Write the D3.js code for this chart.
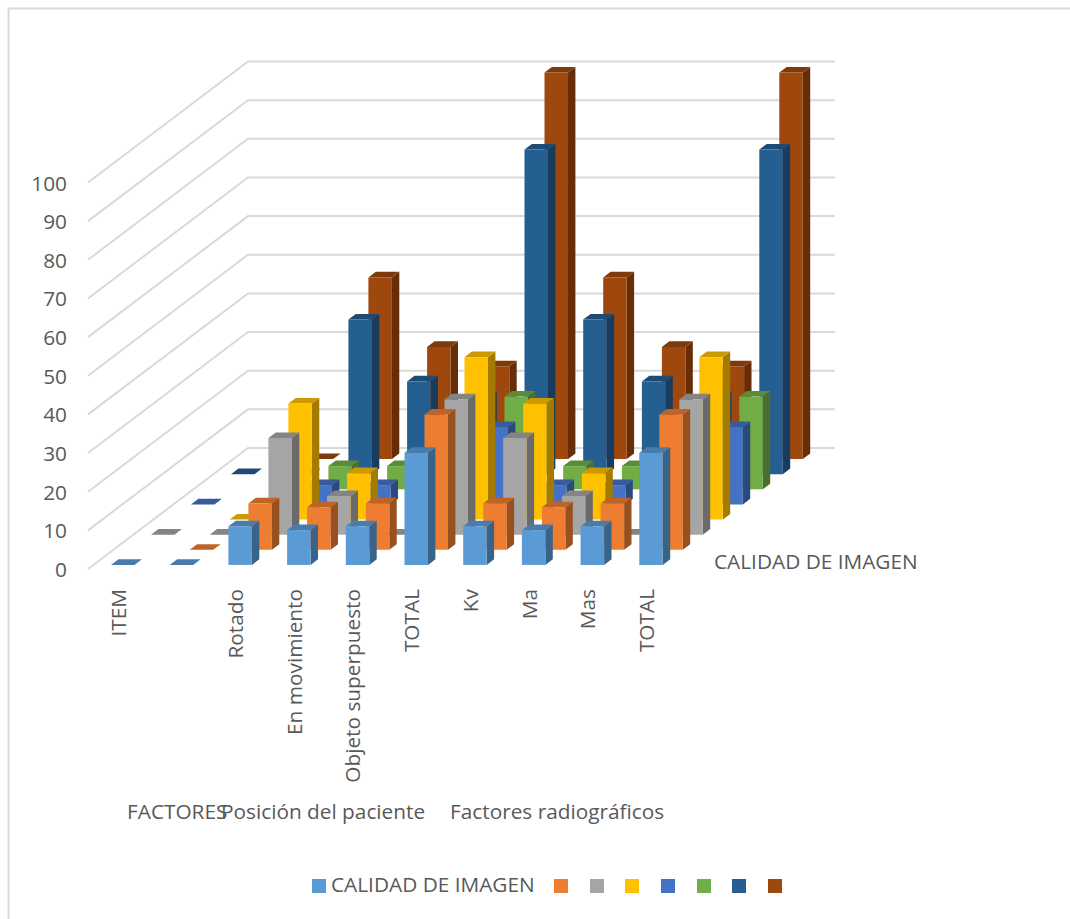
<!DOCTYPE html>
<html lang="es">
<head>
<meta charset="utf-8">
<title>Calidad de imagen</title>
<script src="https://cdn.jsdelivr.net/npm/d3@7"></script>
<style>
  html, body { margin: 0; padding: 0; background: #fff; }
  svg { display: block; }
  text { font-family: "Open Sans", Lato, sans-serif; fill: #595959; }
</style>
</head>
<body>
<svg id="chart" width="1070" height="919"></svg>
<script>
// Categories along the horizontal axis; the second entry has no label of its own.
const categories = ["ITEM", "", "Rotado", "En movimiento", "Objeto superpuesto", "TOTAL", "Kv", "Ma", "Mas", "TOTAL"];
const groupLabels = ["FACTORES", "Posición del paciente", "Factores radiográficos"];
const valueTicks = d3.range(0, 101, 10);

// One list per series, front row first. null = nothing drawn, 0 = flat footprint.
const serieCalidad   = [0, 0, 10, 9, 10, 29, 10, 9, 10, 29];
const serieNaranja   = [null, 0, 12, 11, 12, 35, 12, 11, 12, 35];
const serieGris      = [0, 0, 25, 10, 0, 35, 25, 10, 0, 35];
const serieAmarilla  = [null, 0, 30, 12, 0, 42, 30, 12, 0, 42];
const serieAzul      = [0, null, 5, 5, 10, 20, 5, 5, 10, 20];
const serieVerde     = [null, null, 6, 6, 12, 24, 6, 6, 12, 24];
const serieAzulOsc   = [0, 0, 40, 24, 20, 84, 40, 24, 20, 84];
const serieTeja      = [null, 0, 47, 29, 24, 100, 47, 29, 24, 100];

const seriesValues = [serieCalidad, serieNaranja, serieGris, serieAmarilla, serieAzul, serieVerde, serieAzulOsc, serieTeja];
const seriesNames  = ["CALIDAD DE IMAGEN", "", "", "", "", "", "", ""];
const seriesColors = ["#5B9BD5", "#ED7D31", "#A5A5A5", "#FFC000", "#4472C4", "#70AD47", "#255E91", "#9E480E"];

const svg = d3.select("#chart");

// Oblique projection: the floor runs from the front-left corner to the back wall.
const floor = { left: 88, right: 675, front: 569, depthX: 160, depthY: 121 };
const wallHeight = 386.5;

const x = d3.scaleBand().domain(d3.range(categories.length)).range([floor.left, floor.right]);
const y = d3.scaleLinear().domain([0, 100]).range([0, wallHeight]);
const depth = d3.scaleBand().domain(d3.range(seriesValues.length)).range([0, 1]);

const barWidth = 23.5;
const barDepth = 0.37;   // share of a series slot taken by a bar
const barLead = 0.27;    // share of the slot in front of a bar

const project = (px, pd, h) => [px + pd * floor.depthX, floor.front - pd * floor.depthY - y(h)];
const toPath = pts => "M" + pts.map(p => p.join(",")).join("L") + "Z";

// Chart frame, cut off by the right and bottom edges of the page.
svg.append("path")
  .attr("d", "M8.5,919V8.5H1070")
  .attr("fill", "none").attr("stroke", "#d9d9d9").attr("stroke-width", 2);

// Grid lines on the side wall and the back wall.
const grid = svg.append("g").attr("fill", "none").attr("stroke", "#d9d9d9").attr("stroke-width", 2);
grid.selectAll("path").data(valueTicks).join("path")
  .attr("d", v => {
    const a = project(floor.left, 0, v), b = project(floor.left, 1, v), c = project(floor.right, 1, v);
    return "M" + [a, b, c].map(p => p.join(",")).join("L");
  });

// Bars, painted from the back row forward so nearer rows overlap farther ones.
const marks = svg.append("g");
d3.range(seriesValues.length).reverse().forEach(s => {
  const base = d3.color(seriesColors[s]);
  const topFill = base.darker(0.62).formatHex();
  const sideFill = base.darker(1.25).formatHex();
  const d0 = depth(s) + depth.bandwidth() * barLead;
  const d1 = d0 + depth.bandwidth() * barDepth;
  seriesValues[s].forEach((v, c) => {
    if (v === null) return;
    const x0 = x(c) + x.bandwidth() / 2 - barWidth / 2;
    const x1 = x0 + barWidth;
    const g = marks.append("g");
    g.append("path").attr("fill", sideFill)
      .attr("d", toPath([project(x1, d0, 0), project(x1, d1, 0), project(x1, d1, v), project(x1, d0, v)]));
    g.append("path").attr("fill", topFill)
      .attr("d", toPath([project(x0, d0, v), project(x1, d0, v), project(x1, d1, v), project(x0, d1, v)]));
    g.append("path").attr("fill", seriesColors[s])
      .attr("d", toPath([project(x0, d0, 0), project(x1, d0, 0), project(x1, d0, v), project(x0, d0, v)]));
  });
});

const fontSize = "20.8px";

// Value axis at the front-left corner.
const valueAxis = d3.axisLeft(d3.scaleLinear().domain([0, 100]).range([floor.front, floor.front - wallHeight]))
  .tickValues(valueTicks).tickSize(0).tickPadding(0);
svg.append("g").attr("transform", "translate(67,0)").call(valueAxis)
  .call(g => g.select(".domain").remove())
  .selectAll("text").style("font-size", fontSize).attr("dy", "0.36em");

// Category axis with vertical labels reading upward.
const categoryAxis = d3.axisBottom(x).tickSize(0).tickFormat(i => categories[i]);
svg.append("g").attr("transform", `translate(1,${floor.front})`).call(categoryAxis)
  .call(g => g.select(".domain").remove())
  .selectAll("text")
  .attr("text-anchor", "end")
  .attr("transform", "rotate(-90)")
  .attr("x", -20).attr("y", 0).attr("dy", "0.35em")
  .style("font-size", fontSize);

// Second level of the category axis.
const groupX = [127, 221, 450];
svg.append("g").selectAll("text").data(groupLabels).join("text")
  .attr("x", (d, i) => groupX[i]).attr("y", 819)
  .style("font-size", fontSize).text(d => d);

// Name of the depth axis series, to the right of the floor.
svg.append("text").attr("x", 714).attr("y", 569).style("font-size", fontSize).text(seriesNames[0]);

// Legend row.
const legendX = [312, 554, 590, 625, 661, 697, 732, 768];
const legend = svg.append("g").selectAll("g").data(seriesColors).join("g")
  .attr("transform", (d, i) => `translate(${legendX[i]},879)`);
legend.append("rect").attr("width", 14).attr("height", 14).attr("fill", d => d);
legend.append("text").attr("x", 19).attr("y", 13).style("font-size", fontSize).text((d, i) => seriesNames[i]);
</script>
</body>
</html>
